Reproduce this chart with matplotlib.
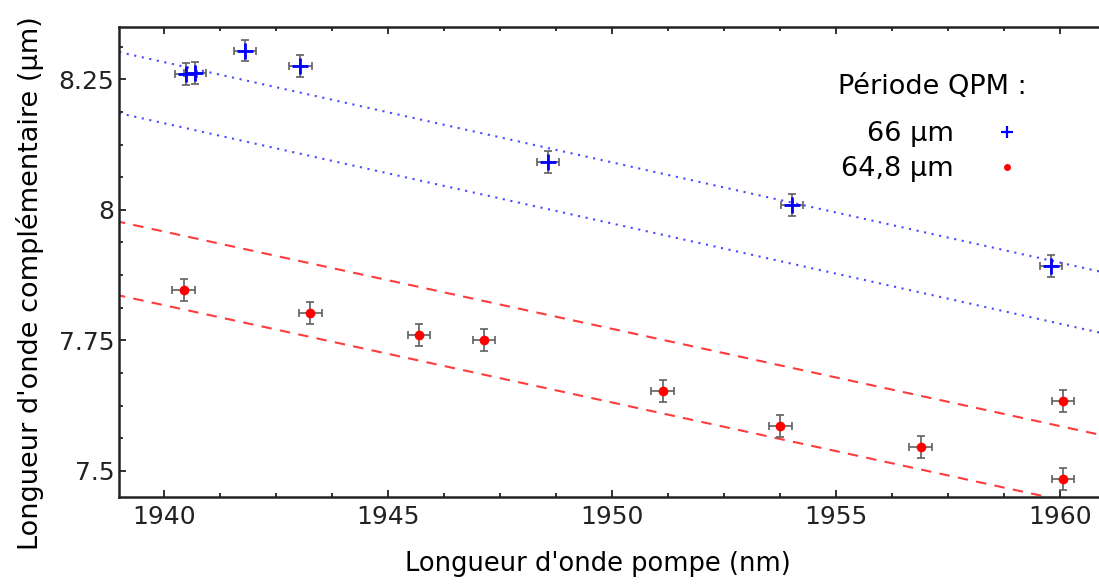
import matplotlib.pyplot as plt
import numpy as np
from matplotlib.ticker import MultipleLocator

# mesures, periode QPM 66 um
x66 = [1940.49, 1940.70, 1941.81, 1943.05, 1948.57, 1954.02, 1959.80]
y66 = [8.260, 8.262, 8.305, 8.276, 8.092, 8.010, 7.892]

# mesures, periode QPM 64,8 um
x648 = [1940.44, 1943.27, 1945.69, 1947.15, 1951.13, 1953.76, 1956.89, 1960.07, 1960.07]
y648 = [7.847, 7.803, 7.761, 7.750, 7.653, 7.586, 7.545, 7.633, 7.485]

xerr = 0.25
yerr = 0.021

# droites theoriques : (valeur a 1939 nm, pente en um/nm)
blue_fits = [(8.302, -0.0192), (8.185, -0.0192)]
red_fits = [(7.977, -0.01863), (7.836, -0.01863)]

plt.rcParams['font.family'] = ['DejaVu Sans']

fig = plt.figure(figsize=(10.99, 5.87), dpi=100)
ax = fig.add_axes([0.1083, 0.1533, 0.8917, 0.8007])

xl = np.array([1938.5, 1962.0])
for y0, s in blue_fits:
    ax.plot(xl, y0 + s * (xl - 1939), color='#4848ff', lw=1.5, ls=(0, (1, 2.7)))
for y0, s in red_fits:
    ax.plot(xl, y0 + s * (xl - 1939), color='#ff3b3b', lw=1.5, ls=(0, (5, 4)))

ax.errorbar(x66, y66, xerr=xerr, yerr=yerr, fmt='none', ecolor='#606060',
            elinewidth=1.2, capsize=3, capthick=1.2, zorder=3)
ax.errorbar(x648, y648, xerr=xerr, yerr=yerr, fmt='none', ecolor='#606060',
            elinewidth=1.2, capsize=3, capthick=1.2, zorder=3)
h1, = ax.plot(x66, y66, '+', color='#0000ff', ms=11, mew=2, ls='none', zorder=4)
h2, = ax.plot(x648, y648, 'o', color='#ff0000', ms=7, mew=0, ls='none', zorder=4)

ax.set_xlim(1939.0, 1960.87)
ax.set_ylim(7.45, 8.35)
ax.set_xticks([1940, 1945, 1950, 1955, 1960])
ax.set_yticks([7.5, 7.75, 8.0, 8.25])
ax.set_yticklabels(['7.5', '7.75', '8', '8.25'])
ax.xaxis.set_minor_locator(MultipleLocator(1.25))
ax.yaxis.set_minor_locator(MultipleLocator(0.0625))
ax.tick_params(which='both', direction='in', top=True, right=False, labelsize=18, colors='#222222')
ax.tick_params(which='major', length=5, width=1.3)
ax.tick_params(which='minor', length=3, width=1.3)
ax.tick_params(axis='x', pad=6)
for side in ['left', 'bottom', 'top']:
    ax.spines[side].set_linewidth(1.8)
    ax.spines[side].set_color('#222222')
ax.spines['right'].set_visible(False)

ax.set_xlabel("Longueur d'onde pompe (nm)", fontsize=18.5, labelpad=22)
ax.xaxis.set_label_coords(0.489, -0.115)
ax.set_ylabel("Longueur d'onde complémentaire (µm)", fontsize=19.5)
ax.yaxis.set_label_coords(-0.077, 0.455)

# legende : titre a part pour garder l'ecart plus grand
ax.text(0.8296, 0.8723, 'Période QPM :', transform=ax.transAxes, fontsize=19.5,
        ha='center', va='center')
leg = ax.legend([h1, h2], ['66 µm', '64,8 µm'],
                markerfirst=False, frameon=False, fontsize=19.5,
                loc='upper right', bbox_to_anchor=(0.9265, 0.800), handlelength=1.5,
                handletextpad=1.2, labelspacing=0.35, borderaxespad=0, borderpad=0)
leg.legend_handles[0].set_markersize(8)
leg.legend_handles[0].set_markeredgewidth(1.6)
leg.legend_handles[1].set_markersize(5)

fig.savefig('out.png', dpi=100)
